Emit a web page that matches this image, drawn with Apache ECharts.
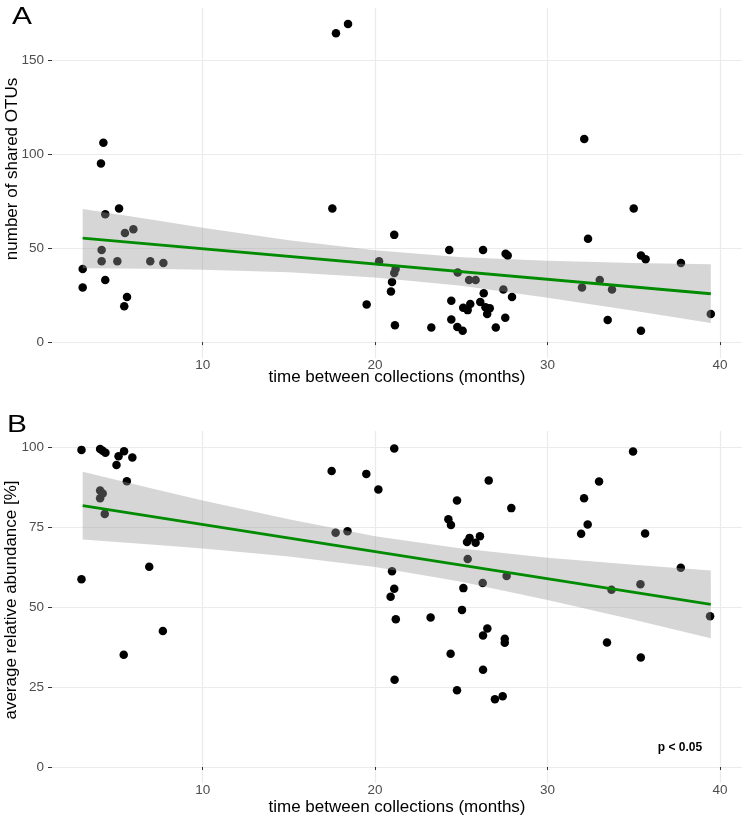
<!DOCTYPE html>
<html>
<head>
<meta charset="utf-8">
<script src="https://cdn.jsdelivr.net/npm/echarts@6/dist/echarts.min.js"></script>
<style>html,body{margin:0;padding:0;background:#fff;}#c{width:744px;height:819px;}</style>
</head>
<body>
<div id="c"></div>
<script>
// Panel A: number of shared OTUs
var aX = [3.04,3.04,4.24,4.10,4.35,5.15,5.49,5.98,4.14,4.14,5.05,6.96,7.72,4.35,5.61,5.45,
  17.73,18.43,17.52,21.11,20.23,21.19,21.11,20.98,20.92,19.51,21.15,23.26,
  24.30,26.26,24.79,25.45,25.83,26.30,24.42,25.52,25.11,25.37,26.10,26.40,26.65,26.50,24.42,24.77,25.08,27.00,27.57,27.69,27.44,27.94,27.55,
  32.13,32.35,35.00,35.42,35.69,37.74,32.00,33.03,33.74,33.49,35.42,39.47];
var aY = [38.9,29,106,95,68,71,58,60,49,43,43,43,42,33,24,19,
  164.2,169.1,71,57,43,38.8,36.7,31.9,26.9,20,9,7.8,
  49,49,37,33,33,26,22,20.3,18.2,17,21.3,18.5,18,15,12,8,6,7.8,47,46,28,24,13,
  108,55,71,46,44,42,29,33,28,11.8,6,15];

// Panel B: average relative abundance [%]
var bX = [2.97,4.05,4.20,4.36,5.00,5.12,5.44,5.92,5.60,4.05,4.20,4.05,4.32,2.97,6.90,7.69,5.42,
  17.48,19.49,20.19,21.11,17.71,18.40,20.98,21.11,20.90,21.20,21.13,23.22,
  24.75,24.25,24.40,26.59,25.48,25.33,25.83,26.08,25.37,26.24,25.12,25.04,26.51,26.26,24.38,26.26,24.75,26.95,27.40,27.90,27.63,27.52,27.52,
  34.96,32.99,32.12,32.33,31.95,35.66,37.73,35.39,33.71,39.43,33.45,35.41];
var bY = [99.1,99.4,98.8,98.2,94.4,97.1,98.7,96.7,89.3,86.4,85.5,84,79.1,58.7,62.6,42.5,35.1,
  92.5,91.6,86.7,99.5,73.2,73.7,61.2,55.7,53.2,46.2,27.3,46.7,
  83.3,77.4,75.6,89.5,71.6,70.3,70.1,72.1,65,57.5,55.9,49.1,43.3,41.1,35.4,30.4,24,21.2,22.1,80.9,59.7,40.1,38.8,
  98.6,89.2,84,75.8,72.9,73,62.3,57.1,55.4,47.1,38.9,34.2];

// Fitted line and confidence band
var fitX = [3.04, 7, 10, 15, 20, 25, 30, 35, 39.47];
var aLo = [39.3, 39.0, 38.5, 37.1, 34.4, 29.9, 23.6, 16.7, 10.1];
var aHi = [70.8, 65.2, 60.8, 54.1, 48.8, 45.1, 43.2, 42.1, 41.4];
var aFitEnds = [55.3, 25.7];
var bLo = [71.1, 69.5, 68.3, 65.8, 62.5, 57.9, 52.2, 46.0, 40.2];
var bHi = [92.3, 87.1, 83.3, 77.4, 72.1, 68.3, 65.4, 63.2, 61.4];
var bFitEnds = [81.7, 50.8];
var fitEndsX = [3.04, 39.47];

var xTicks = [10, 20, 30, 40];
var aYTicks = [0, 50, 100, 150];
var bYTicks = [0, 25, 50, 75, 100];

var FONT = '"Liberation Sans", Arial, sans-serif';

function zip(xs, ys) { return xs.map(function (x, i) { return [x, ys[i]]; }); }

function xAxisDef(idx) {
  return {
    type: 'value', gridIndex: idx, min: 1.26, max: 41.28,
    axisLine: { show: false },
    axisTick: { show: true, length: 3, lineStyle: { color: '#333333', width: 1 }, customValues: xTicks },
    axisLabel: { color: '#4D4D4D', fontSize: 13.5, fontFamily: FONT, margin: 0, customValues: xTicks },
    splitLine: { show: true, lineStyle: { color: '#EBEBEB', width: 1.2 } }
  };
}
function yAxisDef(idx, min, max, ticks) {
  return {
    type: 'value', gridIndex: idx, min: min, max: max,
    axisLine: { show: false },
    axisTick: { show: true, length: 4, lineStyle: { color: '#333333', width: 1 }, customValues: ticks },
    axisLabel: { color: '#4D4D4D', fontSize: 13.5, fontFamily: FONT, margin: 8, customValues: ticks },
    splitLine: { show: true, lineStyle: { color: '#EBEBEB', width: 1.2 } }
  };
}

function panelSeries(idx, xs, ys, lo, hi, fitEnds) {
  return [
    {
      type: 'scatter', xAxisIndex: idx, yAxisIndex: idx, data: zip(xs, ys),
      symbolSize: 8.5, itemStyle: { color: '#000000', opacity: 1 }, z: 2, silent: true
    },
    {
      type: 'custom', xAxisIndex: idx, yAxisIndex: idx, z: 3, silent: true,
      data: [[fitX[0], lo[0]]],
      encode: { x: 0, y: 1 },
      renderItem: function (params, api) {
        var pts = [];
        for (var i = 0; i < fitX.length; i++) pts.push(api.coord([fitX[i], hi[i]]));
        for (var j = fitX.length - 1; j >= 0; j--) pts.push(api.coord([fitX[j], lo[j]]));
        return { type: 'polygon', shape: { points: pts }, style: { fill: 'rgba(153,153,153,0.4)' } };
      }
    },
    {
      type: 'line', xAxisIndex: idx, yAxisIndex: idx, data: zip(fitEndsX, fitEnds),
      symbol: 'none', lineStyle: { color: '#008B00', width: 2.8 }, z: 4, silent: true
    }
  ];
}

var chart = echarts.init(document.getElementById('c'), null, { renderer: 'canvas' });
chart.setOption({
  animation: false,
  backgroundColor: '#ffffff',
  grid: [
    { left: 52, top: 8, width: 690, height: 350 },
    { left: 52, top: 431, width: 690, height: 352 }
  ],
  xAxis: [xAxisDef(0), xAxisDef(1)],
  yAxis: [yAxisDef(0, -8.45, 177.6, aYTicks), yAxisDef(1, -5, 105, bYTicks)],
  series: panelSeries(0, aX, aY, aLo, aHi, aFitEnds).concat(panelSeries(1, bX, bY, bLo, bHi, bFitEnds)),
  graphic: [
    { type: 'text', left: 12, top: 6, scaleX: 1.3,
      style: { text: 'A', font: '23px ' + FONT, fill: '#000' } },
    { type: 'text', left: 7, top: 414, scaleX: 1.3,
      style: { text: 'B', font: '23px ' + FONT, fill: '#000' } },
    { type: 'text', x: 12, y: 169, rotation: Math.PI / 2,
      style: { text: 'number of shared OTUs', font: '17px ' + FONT, fill: '#000', align: 'center', verticalAlign: 'middle' } },
    { type: 'text', x: 11, y: 600, rotation: Math.PI / 2,
      style: { text: 'average relative abundance [%]', font: '17px ' + FONT, fill: '#000', align: 'center', verticalAlign: 'middle' } },
    { type: 'text', x: 397, y: 377,
      style: { text: 'time between collections (months)', font: '17px ' + FONT, fill: '#000', align: 'center', verticalAlign: 'middle' } },
    { type: 'text', x: 397, y: 807,
      style: { text: 'time between collections (months)', font: '17px ' + FONT, fill: '#000', align: 'center', verticalAlign: 'middle' } },
    { type: 'text', x: 680, y: 748,
      style: { text: 'p < 0.05', font: 'bold 12px ' + FONT, fill: '#000', align: 'center', verticalAlign: 'middle' } }
  ]
});
</script>
</body>
</html>
